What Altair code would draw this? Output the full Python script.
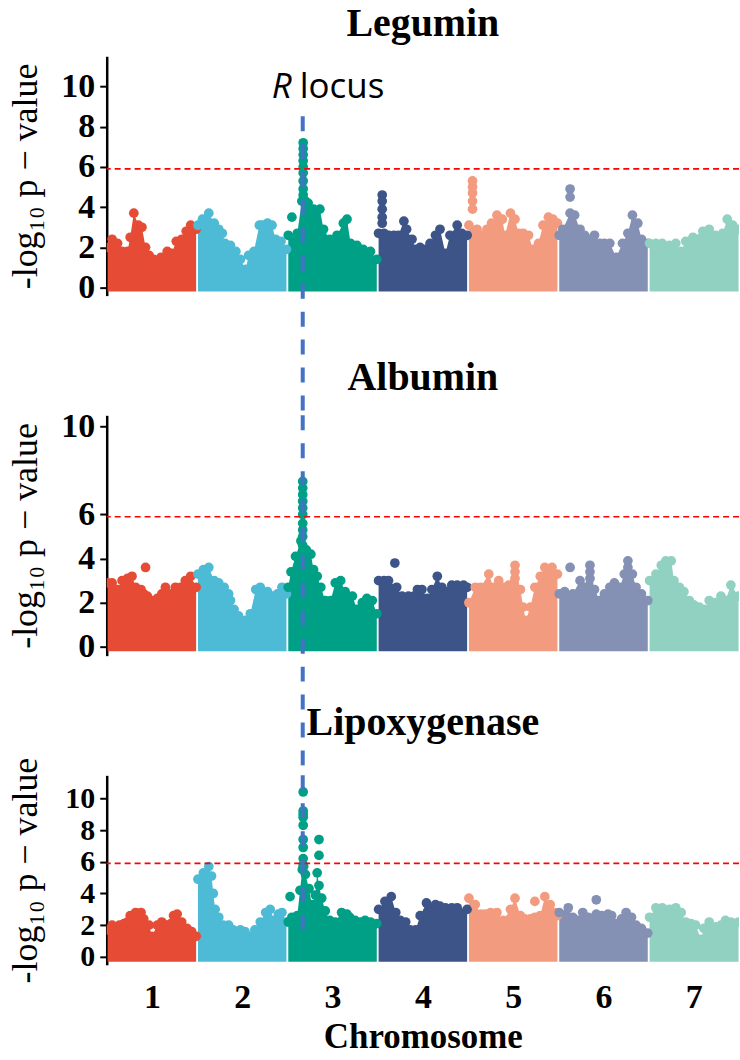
import altair as alt
import pandas as pd

# ggsci "npg" palette, one colour per chromosome
CHROMOSOMES = [1, 2, 3, 4, 5, 6, 7]
CHROM_COLORS = ["#E64B35", "#4DBBD5", "#00A087", "#3C5488", "#F39B7F", "#8491B4", "#91D1C2"]
THRESHOLD = 5.9      # genome-wide significance, -log10 p
R_LOCUS = 2.17       # position of the R locus on chromosome 3 (cumulative units)

# Positions are cumulative: chromosome k spans [k-1, k].
# *_POS / *_TOP: upper envelope of the SNP cloud per genomic bin.
# *_PEAK_POS / *_PEAK_VAL: individual SNPs standing above the cloud.
LEGUMIN_POS = [
    0.01, 0.06, 0.12, 0.17, 0.23, 0.26, 0.30, 0.35, 0.39, 0.43, 0.47, 0.52, 0.60, 0.67, 0.72, 0.77, 0.83, 0.88, 0.93, 0.99,
    1.01, 1.06, 1.13, 1.19, 1.24, 1.28, 1.31, 1.37, 1.43, 1.48, 1.54, 1.57, 1.63, 1.69, 1.72, 1.78, 1.83, 1.87, 1.93, 1.99,
    2.01, 2.11, 2.16, 2.20, 2.23, 2.29, 2.36, 2.40, 2.47, 2.55, 2.62, 2.66, 2.70, 2.77, 2.84, 2.92, 2.99,
    3.01, 3.07, 3.12, 3.18, 3.23, 3.29, 3.32, 3.38, 3.42, 3.47, 3.53, 3.58, 3.64, 3.69, 3.75, 3.80, 3.88, 3.93, 3.99,
    4.01, 4.10, 4.15, 4.21, 4.26, 4.32, 4.38, 4.41, 4.47, 4.52, 4.56, 4.61, 4.67, 4.72, 4.78, 4.83, 4.89, 4.94, 4.99,
    5.01, 5.05, 5.13, 5.18, 5.24, 5.29, 5.35, 5.40, 5.46, 5.51, 5.57, 5.64, 5.71, 5.77, 5.82, 5.88, 5.92, 5.99,
    6.01, 6.08, 6.15, 6.23, 6.30, 6.36, 6.41, 6.49, 6.60, 6.67, 6.74, 6.82, 6.87, 6.93, 6.995,
]
LEGUMIN_TOP = [
    2.0, 2.4, 2.2, 1.8, 1.8, 2.5, 3.7, 3.1, 3.0, 2.0, 1.6, 1.4, 1.5, 1.8, 1.7, 2.3, 2.4, 2.8, 3.1, 2.9,
    3.1, 3.4, 3.7, 3.2, 2.9, 2.7, 2.2, 2.1, 1.8, 1.4, 0.9, 1.6, 1.8, 3.1, 3.1, 3.2, 3.1, 2.4, 2.3, 1.9,
    2.6, 2.7, 4.3, 4.3, 4.2, 3.9, 3.9, 2.9, 2.4, 2.6, 3.2, 3.4, 2.2, 2.1, 1.9, 1.8, 1.4,
    2.7, 2.7, 2.6, 2.6, 2.6, 3.3, 2.9, 2.4, 1.9, 2.0, 1.9, 2.2, 2.6, 2.9, 1.7, 2.6, 3.1, 2.7, 2.6,
    3.1, 2.9, 2.6, 2.9, 3.2, 3.6, 3.4, 2.6, 3.7, 3.4, 2.7, 2.7, 2.6, 1.9, 2.2, 3.1, 3.5, 3.4, 3.2,
    2.6, 2.9, 3.7, 3.6, 2.9, 2.6, 2.4, 2.6, 2.2, 2.2, 2.2, 1.5, 2.2, 2.7, 3.6, 3.2, 2.4, 2.2,
    2.2, 2.2, 2.2, 2.1, 2.2, 1.8, 2.3, 2.5, 2.8, 2.9, 2.6, 2.7, 3.4, 3.1, 2.9,
]
LEGUMIN_PEAK_POS = [2.05] + [2.175] * 9 + [3.05] * 5 + [4.05] * 5 + [5.13] * 2
LEGUMIN_PEAK_VAL = [3.5, 7.2, 6.9, 6.6, 6.3, 6.0, 5.7, 5.3, 4.9, 4.6,
                    4.6, 4.3, 3.9, 3.5, 3.2, 5.3, 5.0, 4.7, 4.3, 3.9, 4.9, 4.5]

ALBUMIN_POS = [
    0.01, 0.06, 0.12, 0.17, 0.23, 0.28, 0.32, 0.38, 0.41, 0.45, 0.50, 0.56, 0.61, 0.65, 0.71, 0.76, 0.82, 0.87, 0.93, 0.99,
    1.01, 1.07, 1.13, 1.19, 1.24, 1.30, 1.35, 1.37, 1.41, 1.46, 1.54, 1.59, 1.65, 1.70, 1.78, 1.83, 1.89, 1.94, 1.99,
    2.01, 2.04, 2.09, 2.15, 2.17, 2.21, 2.26, 2.29, 2.33, 2.37, 2.42, 2.48, 2.53, 2.59, 2.64, 2.72, 2.77, 2.83, 2.88, 2.94, 2.99,
    3.01, 3.07, 3.12, 3.21, 3.27, 3.31, 3.34, 3.40, 3.44, 3.49, 3.55, 3.60, 3.66, 3.71, 3.77, 3.82, 3.88, 3.95, 3.99,
    4.01, 4.08, 4.14, 4.23, 4.28, 4.34, 4.39, 4.45, 4.52, 4.58, 4.61, 4.64, 4.69, 4.74, 4.80, 4.85, 4.93, 4.99,
    5.01, 5.07, 5.16, 5.24, 5.29, 5.35, 5.40, 5.46, 5.51, 5.57, 5.62, 5.68, 5.73, 5.77, 5.82, 5.86, 5.92, 5.99,
    6.01, 6.08, 6.14, 6.19, 6.25, 6.28, 6.34, 6.39, 6.45, 6.50, 6.56, 6.61, 6.67, 6.74, 6.80, 6.85, 6.91, 6.995,
]
ALBUMIN_TOP = [
    2.9, 2.9, 2.6, 3.0, 3.1, 3.2, 2.7, 2.6, 2.4, 2.3, 2.1, 2.2, 2.4, 2.7, 2.4, 2.7, 2.7, 3.0, 3.2, 2.7,
    3.3, 3.5, 3.6, 3.0, 2.9, 2.7, 2.4, 2.1, 1.7, 1.4, 1.2, 1.5, 2.6, 2.7, 2.5, 2.3, 2.4, 2.7, 2.4,
    2.7, 3.4, 4.1, 4.8, 4.6, 4.4, 4.2, 3.5, 3.2, 2.7, 2.1, 2.1, 2.9, 3.0, 2.5, 2.3, 1.7, 2.0, 2.2, 2.1, 1.5,
    3.0, 3.0, 3.0, 2.7, 2.3, 2.1, 2.3, 2.3, 2.6, 2.6, 2.2, 2.6, 3.2, 2.7, 2.5, 2.8, 2.8, 2.8, 2.7,
    2.0, 2.7, 2.7, 3.3, 2.7, 3.0, 2.7, 2.8, 3.7, 2.6, 1.8, 1.2, 1.8, 2.7, 3.2, 3.6, 3.6, 3.3,
    2.4, 2.5, 2.4, 3.0, 2.7, 3.7, 2.6, 2.1, 2.4, 2.7, 2.9, 2.7, 3.3, 3.9, 3.3, 2.7, 2.4, 2.1,
    3.0, 3.3, 3.7, 3.9, 3.9, 3.0, 2.7, 2.5, 2.1, 1.9, 1.8, 1.7, 2.1, 2.0, 2.3, 2.1, 2.8, 2.3,
]
ALBUMIN_PEAK_POS = [0.43] + [2.17] * 9 + [3.19] + [4.52] * 2 + [5.13] + [5.35] * 2 + [5.77] * 2
ALBUMIN_PEAK_VAL = [3.6, 7.5, 7.2, 6.9, 6.6, 6.3, 6.0, 5.6, 5.3, 5.0,
                    3.8, 3.4, 3.1, 3.6, 3.4, 3.1, 3.6, 3.3]

LIPOX_POS = [
    0.01, 0.06, 0.14, 0.19, 0.23, 0.26, 0.32, 0.38, 0.41, 0.47, 0.50, 0.56, 0.61, 0.67, 0.71, 0.74, 0.78, 0.83, 0.89, 0.94, 0.99,
    1.01, 1.07, 1.13, 1.16, 1.18, 1.20, 1.24, 1.29, 1.35, 1.40, 1.48, 1.53, 1.59, 1.64, 1.70, 1.76, 1.81, 1.85, 1.90, 1.94, 1.99,
    2.01, 2.05, 2.11, 2.14, 2.165, 2.18, 2.20, 2.24, 2.27, 2.31, 2.33, 2.35, 2.38, 2.42, 2.47, 2.53, 2.60, 2.66, 2.69, 2.75,
    2.81, 2.86, 2.92, 2.99,
    3.01, 3.08, 3.15, 3.20, 3.25, 3.31, 3.36, 3.42, 3.47, 3.54, 3.58, 3.64, 3.69, 3.75, 3.82, 3.88, 3.99,
    4.01, 4.08, 4.14, 4.19, 4.25, 4.32, 4.39, 4.47, 4.52, 4.58, 4.63, 4.69, 4.74, 4.80, 4.85, 4.91, 4.96, 4.99,
    5.01, 5.11, 5.16, 5.22, 5.27, 5.33, 5.42, 5.48, 5.55, 5.59, 5.64, 5.70, 5.75, 5.81, 5.86, 5.92, 5.99,
    6.01, 6.08, 6.15, 6.23, 6.30, 6.36, 6.41, 6.47, 6.52, 6.58, 6.61, 6.67, 6.74, 6.80, 6.85, 6.91, 6.995,
]
LIPOX_TOP = [
    1.7, 2.0, 2.0, 2.1, 2.2, 2.6, 2.8, 2.8, 2.4, 2.0, 1.3, 2.0, 2.2, 2.0, 2.1, 2.6, 2.7, 2.2, 1.8, 1.6, 1.3,
    4.9, 5.3, 5.7, 5.1, 4.0, 3.0, 2.5, 2.0, 2.0, 1.7, 1.7, 1.6, 1.3, 1.7, 2.2, 2.8, 3.0, 2.3, 2.7, 2.8, 2.2,
    2.2, 2.5, 2.6, 4.2, 5.5, 5.7, 5.2, 4.3, 3.3, 3.9, 5.3, 4.5, 3.7, 2.9, 2.3, 2.2, 2.8, 2.7, 2.5, 2.3,
    2.2, 2.3, 2.2, 2.1,
    3.0, 3.5, 3.8, 2.8, 2.3, 2.2, 1.7, 1.7, 2.6, 3.4, 3.0, 3.3, 3.2, 3.1, 3.1, 3.1, 3.0,
    3.7, 3.3, 2.7, 2.7, 2.8, 2.8, 2.3, 3.0, 3.7, 2.6, 2.4, 2.4, 2.5, 2.6, 3.8, 3.3, 2.8, 2.6,
    2.8, 3.1, 2.5, 2.3, 2.8, 2.5, 2.7, 2.6, 2.7, 2.6, 2.1, 2.4, 2.8, 2.5, 2.0, 1.8, 1.5,
    2.5, 3.1, 3.1, 3.0, 3.1, 2.8, 2.2, 2.1, 2.0, 1.1, 1.8, 2.2, 1.9, 2.0, 2.3, 2.2, 2.2,
]
LIPOX_PEAK_POS = [2.03] + [2.175] * 9 + [2.35] * 2 + [4.74, 5.42]
LIPOX_PEAK_VAL = [3.8, 10.4, 9.2, 9.0, 8.8, 8.3, 7.4, 6.9, 6.2, 5.8, 7.4, 6.4, 3.5, 3.6]

CHROM_TICKS = [0.5, 1.5, 2.5, 3.5, 4.5, 5.5, 6.5]

# layout
PLOT_W = 634
SPACING = 120
SERIF = "Liberation Serif"
Y_TITLE = "-log\u2081\u2080 p \u2212 value"


def panel(title, pos, top, peak_pos, peak_val, y_min, y_max, height, y_ticks,
          rule_top, rule_bottom, base, title_offset, label_size=34,
          show_x=False, locus_label=False):
    env = pd.DataFrame({"pos": pos, "p": top,
                        "chrom": [int(v) + 1 for v in pos], "base": base})
    peaks = pd.DataFrame({"pos": peak_pos, "p": peak_val,
                          "chrom": [int(v) + 1 for v in peak_pos]})
    snps = pd.concat([env[["pos", "p", "chrom"]], peaks], ignore_index=True)

    x_scale = alt.Scale(domain=[0, 7], nice=False, zero=False)
    y_scale = alt.Scale(domain=[y_min, y_max], nice=False, zero=False)

    if show_x:
        x_axis = alt.Axis(values=CHROM_TICKS, labelExpr="datum.value + 0.5",
                          domain=False, ticks=False, grid=False,
                          labelFont=SERIF, labelFontWeight="bold", labelFontSize=34,
                          labelColor="black", labelPadding=16, labelFlush=False,
                          title="Chromosome", titleFont=SERIF, titleFontSize=35,
                          titleFontWeight="bold", titleColor="black", titlePadding=5)
    else:
        x_axis = None
    y_axis = alt.Axis(values=y_ticks, format="d", grid=False,
                      domainColor="black", domainWidth=2.5,
                      tickColor="black", tickWidth=2, tickSize=7,
                      labelFont=SERIF, labelFontWeight="bold", labelFontSize=label_size,
                      labelColor="black", labelPadding=5, labelOverlap=False,
                      title=Y_TITLE, titleFont=SERIF, titleFontSize=36,
                      titleFontWeight="normal", titleColor="black",
                      titlePadding=16 + (34 - label_size))

    x = alt.X("pos:Q", scale=x_scale, axis=x_axis,
              title="Chromosome" if show_x else "")
    y = alt.Y("p:Q", scale=y_scale, axis=y_axis, title=Y_TITLE, stack=False)
    color = alt.Color("chrom:N", scale=alt.Scale(domain=CHROMOSOMES, range=CHROM_COLORS),
                      legend=None)

    cloud = alt.Chart(env).mark_area(clip=True, opacity=1, interpolate="linear").encode(
        x=x, y=y, y2="base:Q", color=color)
    dots = alt.Chart(snps).mark_circle(size=95, opacity=1, clip=True).encode(
        x=x, y=y, color=color)
    cutoff = alt.Chart(pd.DataFrame({"p": [THRESHOLD]})).mark_rule(
        color="#FF0000", strokeDash=[6, 4], strokeWidth=1.6).encode(y=y)
    locus = alt.Chart(pd.DataFrame({"pos": [R_LOCUS], "p": [rule_top], "p2": [rule_bottom]})).mark_rule(
        color="#4472C4", strokeWidth=4, strokeDash=[15, 13], clip=False).encode(
        x=x, y=y, y2="p2:Q")
    layers = [cloud, dots, cutoff, locus]

    if locus_label:
        lab = pd.DataFrame({"pos": [R_LOCUS], "p": [9.42], "t1": ["R"], "t2": ["locus"]})
        layers.append(alt.Chart(lab).mark_text(
            font="Open Sans", fontStyle="italic", fontSize=35, align="left",
            baseline="alphabetic", dx=-31, color="black").encode(x=x, y=y, text="t1:N"))
        layers.append(alt.Chart(lab).mark_text(
            font="Open Sans", fontSize=35, align="left",
            baseline="alphabetic", dx=-3, color="black").encode(x=x, y=y, text="t2:N"))

    return alt.layer(*layers).properties(
        width=PLOT_W, height=height,
        title=alt.TitleParams(text=title, font=SERIF, fontSize=40, fontWeight="bold",
                              color="black", anchor="middle", frame="group",
                              baseline="alphabetic", offset=title_offset),
    )


def gap_units(y_min, y_max, height):
    # how far (in data units) the gap to the next panel reaches below this one
    return y_min - SPACING * (y_max - y_min) / height


p1 = panel("Legumin", LEGUMIN_POS, LEGUMIN_TOP, LEGUMIN_PEAK_POS, LEGUMIN_PEAK_VAL,
           -0.4, 11.5, 240, [0, 2, 4, 6, 8, 10],
           rule_top=8.52, rule_bottom=gap_units(-0.4, 11.5, 240), base=-0.2,
           title_offset=-20, locus_label=True)
p2 = panel("Albumin", ALBUMIN_POS, ALBUMIN_TOP, ALBUMIN_PEAK_POS, ALBUMIN_PEAK_VAL,
           -0.4, 10.5, 241, [0, 2, 4, 6, 10],
           rule_top=10.5, rule_bottom=gap_units(-0.4, 10.5, 241), base=-0.2,
           title_offset=-21)
p3 = panel("Lipoxygenase", LIPOX_POS, LIPOX_TOP, LIPOX_PEAK_POS, LIPOX_PEAK_VAL,
           -0.5, 11.45, 190, [0, 2, 4, 6, 8, 10],
           rule_top=11.45, rule_bottom=1.3, base=-0.3, title_offset=-18,
           label_size=30, show_x=True)

chart = alt.vconcat(p1, p2, p3, spacing=SPACING, bounds="flush").properties(
    padding={"left": 8, "top": 3, "right": 0, "bottom": 0},
    background="white",
).configure_view(strokeWidth=0)

chart.save("out.html", embed_options={"renderer": "svg", "actions": False})
